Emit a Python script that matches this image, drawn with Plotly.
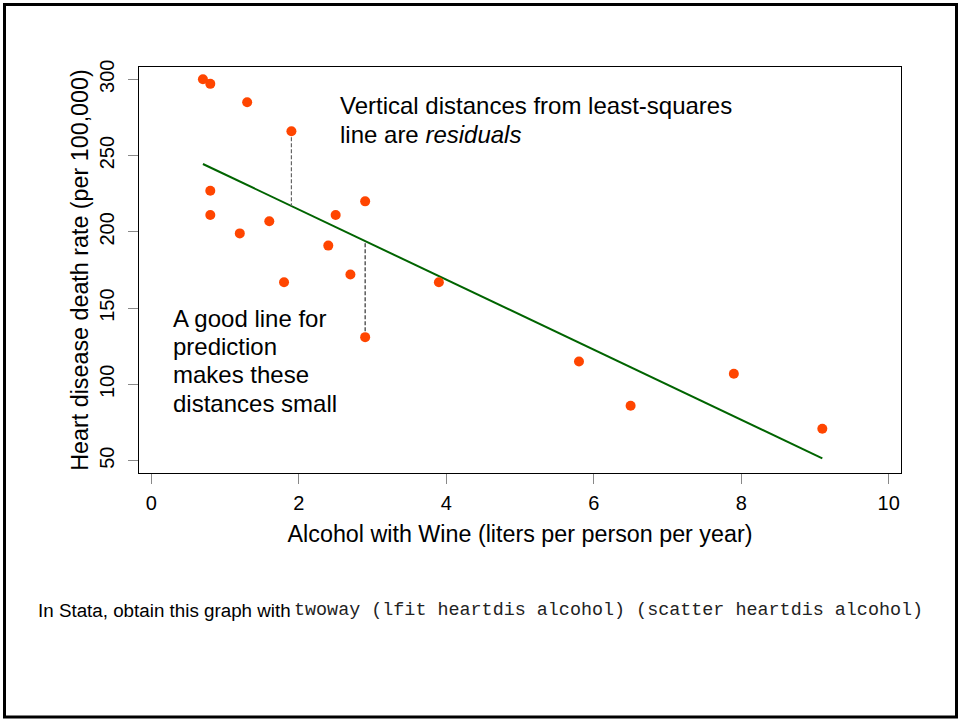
import numpy as np
import plotly.graph_objects as go

# Data: alcohol from wine (liters/person/year) and heart disease deaths per 100,000
alcohol = [2.5, 3.9, 2.9, 2.4, 2.9, 0.8, 9.1, 0.8, 0.7, 7.9,
           1.8, 1.9, 0.8, 6.5, 1.6, 5.8, 1.3, 1.2, 2.7]
heartdis = [211, 167, 131, 191, 220, 297, 71, 211, 300, 107,
            167, 266, 227, 86, 207, 115, 285, 199, 172]
x_ticks = [0, 2, 4, 6, 8, 10]
y_ticks = [50, 100, 150, 200, 250, 300]
residual_x = [1.9, 2.9]  # points whose residuals are drawn

# least-squares fit (as Stata's lfit)
slope, intercept = np.polyfit(alcohol, heartdis, 1)
fit_x = [min(alcohol), max(alcohol)]
fit_y = [intercept + slope * v for v in fit_x]

W, H = 960, 721
ML, MR, MT, MB = 139, 59, 67, 248
PW, PH = W - ML - MR, H - MT - MB


def px(x):
    return (x - ML) / PW


def py(y):
    return (H - MB - y) / PH


SANS = "Liberation Sans, Arial, Helvetica, sans-serif"
MONO = "Liberation Mono, Courier New, monospace"

fig = go.Figure()

fig.add_trace(go.Scatter(x=fit_x, y=fit_y, mode="lines",
                         line=dict(color="#006400", width=2),
                         hoverinfo="skip", showlegend=False))

res_colors = ["#666666", "#333333"]
for k, rx in enumerate(residual_x):
    idx = [i for i, v in enumerate(alcohol) if v == rx]
    best = max(idx, key=lambda i: abs(heartdis[i] - (intercept + slope * alcohol[i])))
    yhat = intercept + slope * alcohol[best]
    fig.add_trace(go.Scatter(x=[alcohol[best], alcohol[best]], y=[heartdis[best], yhat],
                             mode="lines",
                             line=dict(color=res_colors[k], width=1.2, dash="4px,2px"),
                             hoverinfo="skip", showlegend=False))

fig.add_trace(go.Scatter(x=alcohol, y=heartdis, mode="markers",
                         marker=dict(color="#FF4500", size=10, line=dict(width=0)),
                         showlegend=False))

axis_common = dict(showline=True, linecolor="black", linewidth=1, mirror=True,
                   ticks="outside", ticklen=10, tickcolor="#888888", tickwidth=1,
                   showgrid=False, zeroline=False,
                   tickfont=dict(family=SANS, size=20, color="black"))

fig.update_xaxes(range=[-0.167, 10.167], tickvals=x_ticks, ticklabelstandoff=2,
                 title=dict(text="Alcohol with Wine (liters per person per year)",
                            font=dict(family=SANS, size=23.3, color="black"), standoff=12),
                 **axis_common)
fig.update_yaxes(range=[41.94, 308.06], tickvals=y_ticks, tickangle=-90, ticklabelstandoff=6,
                 title=dict(text="Heart disease death rate (per 100,000)",
                            font=dict(family=SANS, size=23.3, color="black"), standoff=0),
                 **axis_common)

ann = []
fs = 24
for txt, yb in [("Vertical distances from least-squares", 114.3),
                ("line are <i>residuals</i>", 142.7)]:
    ann.append(dict(text=txt, x=px(338), y=py(yb - 0.35 * fs), xref="paper", yref="paper",
                    xanchor="left", yanchor="middle", showarrow=False,
                    font=dict(family=SANS, size=fs, color="black")))
for txt, yb in [("A good line for", 326.7), ("prediction", 355.0),
                ("makes these", 383.3), ("distances small", 411.7)]:
    ann.append(dict(text=txt, x=px(171), y=py(yb - 0.35 * fs), xref="paper", yref="paper",
                    xanchor="left", yanchor="middle", showarrow=False,
                    font=dict(family=SANS, size=fs, color="black")))

ann.append(dict(text="In Stata, obtain this graph with", x=px(35.5), y=py(616.7 - 0.35 * 18.8),
                xref="paper", yref="paper", xanchor="left", yanchor="middle", showarrow=False,
                font=dict(family=SANS, size=18.8, color="black")))
ann.append(dict(text="twoway (lfit heartdis alcohol) (scatter heartdis alcohol)",
                x=px(291.5), y=py(616.7 - 0.35 * 18.4),
                xref="paper", yref="paper", xanchor="left", yanchor="middle", showarrow=False,
                font=dict(family=MONO, size=18.4, color="#222222")))

fig.update_layout(
    width=W, height=H,
    margin=dict(l=ML, r=MR, t=MT, b=MB, autoexpand=False),
    paper_bgcolor="white", plot_bgcolor="white",
    annotations=ann,
    shapes=[dict(type="rect", xref="paper", yref="paper",
                 x0=px(4.5), x1=px(956.5), y0=py(4.5), y1=py(717),
                 line=dict(color="black", width=3), fillcolor="rgba(0,0,0,0)", layer="below")],
)

fig.write_html("out.html")
